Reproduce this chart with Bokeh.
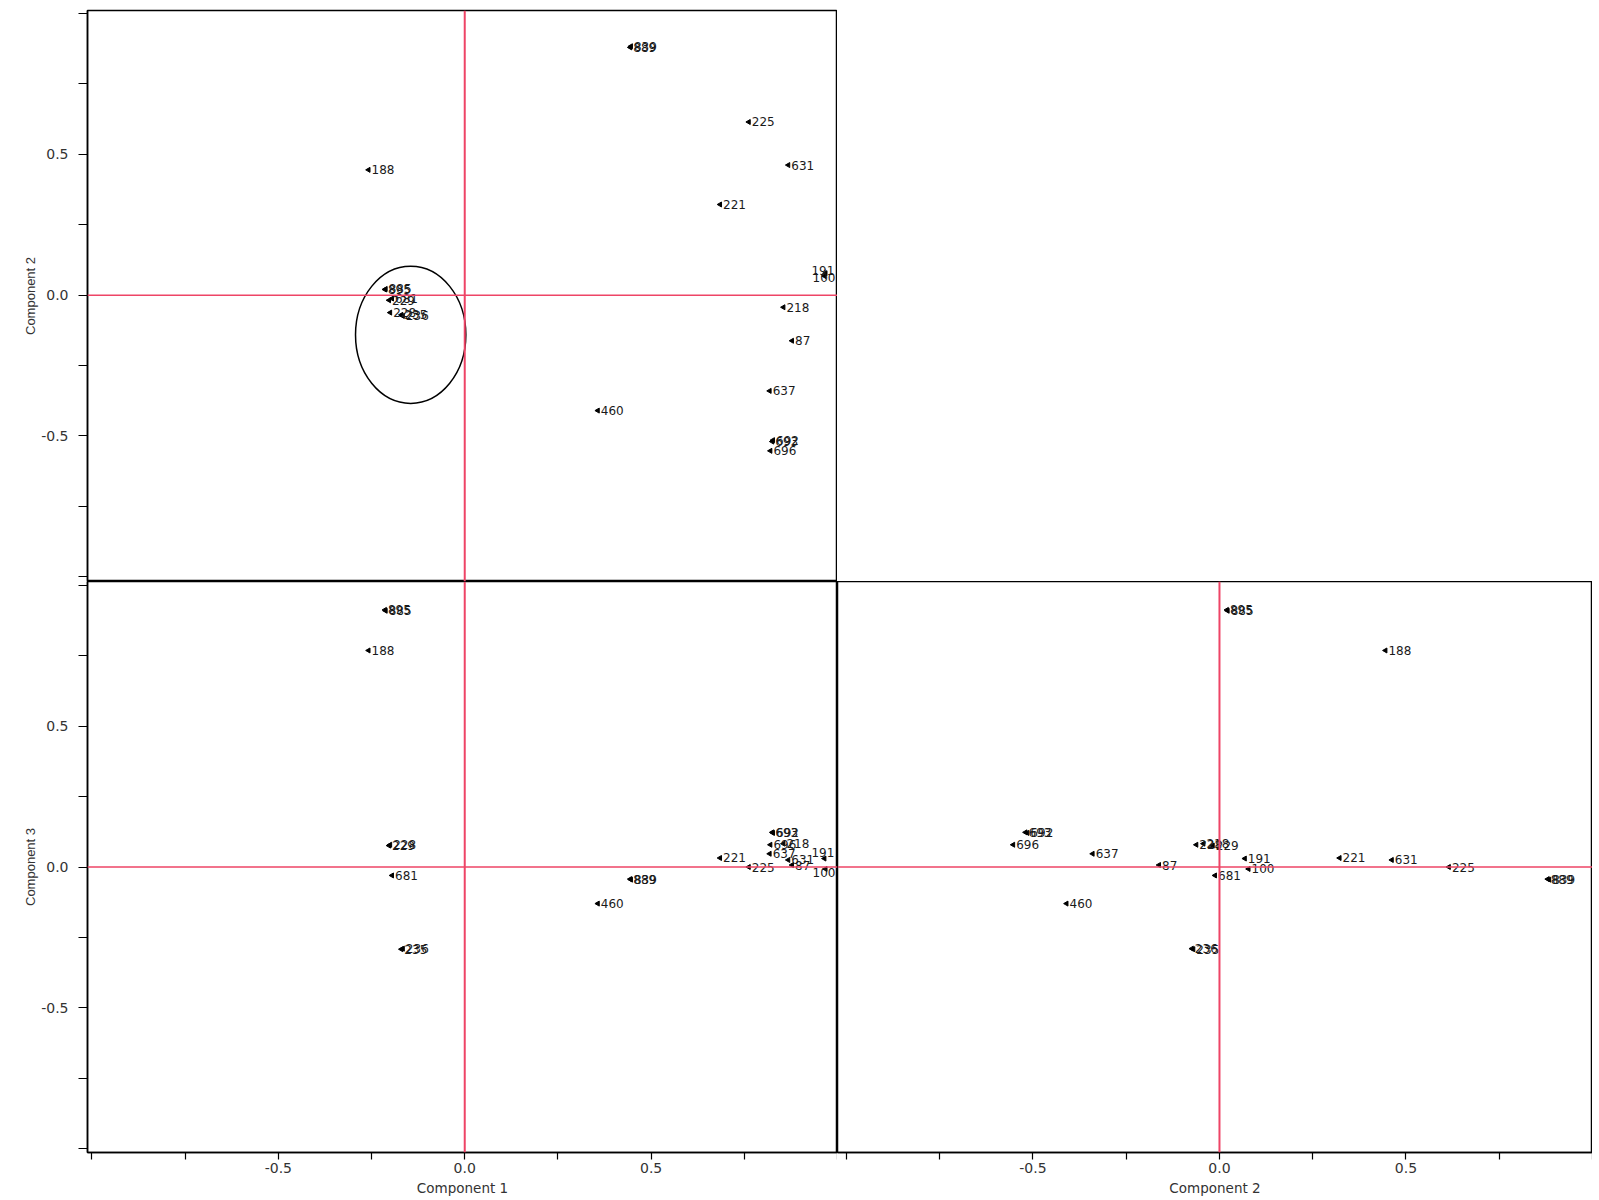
import numpy as np
from bokeh.plotting import figure
from bokeh.layouts import column, row
from bokeh.models import ColumnDataSource, Span, FixedTicker, Range1d, PrintfTickFormatter
from bokeh.core.properties import value
from bokeh.embed import file_html
from bokeh.resources import INLINE

# ---- data (loadings) ----
labels = ["889", "839", "225", "631", "221", "188", "191", "100", "218", "87",
          "637", "460", "693", "692", "696", "895", "885", "229", "228", "681",
          "235", "236"]
comp1 = [0.444, 0.446, 0.762, 0.868, 0.685, -0.258, 0.965, 0.968, 0.855, 0.878,
         0.818, 0.357, 0.825, 0.827, 0.820, -0.214, -0.212, -0.203, -0.200, -0.195,
         -0.170, -0.166]
comp2 = [0.880, 0.884, 0.615, 0.462, 0.322, 0.445, 0.068, 0.078, -0.043, -0.162,
         -0.340, -0.410, -0.520, -0.515, -0.553, 0.020, 0.022, -0.018, -0.062, -0.012,
         -0.070, -0.074]
comp3 = [-0.043, -0.045, 0.000, 0.025, 0.032, 0.769, 0.030, -0.007, 0.083, 0.007,
         0.047, -0.130, 0.123, 0.121, 0.079, 0.913, 0.910, 0.076, 0.079, -0.030,
         -0.292, -0.290]

axis_titles = ["Component 1", "Component 2", "Component 3"]
major_ticks = [-0.5, 0.0, 0.5]
minor_ticks = [-1.0, -0.75, -0.25, 0.25, 0.75, 1.0]

# highlight ellipse in Component 1 vs Component 2 panel
ell_x, ell_y, ell_w, ell_h = [-0.145], [-0.141], [0.296], [0.487]

# labels of points at the right edge of the Component 1 panels sit above-left of their marker
edge_labels = {"191": (-13, -6), "100": (-13, 4)}
off1_x = [edge_labels.get(l, (3, 0))[0] for l in labels]
off1_y = [edge_labels.get(l, (3, 0))[1] for l in labels]

src = ColumnDataSource(dict(c1=comp1, c2=comp2, c3=comp3, lab=labels,
                            ox1=off1_x, oy1=off1_y))

RED = "#ee4466"
FONT = "DejaVu Sans"


def make_panel(xcol, ycol, xr, yr, show_x, show_y, fw, fh, mbl, mbt, mbb, xtitle=None, ytitle=None):
    kw = dict(frame_width=fw, frame_height=fh, output_backend="svg", toolbar_location=None,
              x_range=Range1d(*xr), y_range=Range1d(*yr),
              min_border_left=mbl, min_border_right=0, min_border_top=mbt, min_border_bottom=mbb)
    if not show_x:
        kw["x_axis_location"] = None
    if not show_y:
        kw["y_axis_location"] = None
    p = figure(**kw)
    p.grid.visible = False
    p.outline_line_color = "black"
    p.outline_line_width = 1.5
    p.background_fill_color = "white"
    p.border_fill_color = "white"
    for ax, tick_len, standoff in ([(a, 7, 3) for a in p.xaxis] + [(a, 9, 10) for a in p.yaxis]):
        ax.ticker = FixedTicker(ticks=major_ticks, minor_ticks=minor_ticks)
        ax.formatter = PrintfTickFormatter(format="%.1f")
        ax.axis_line_color = "black"
        ax.axis_line_width = 1.5
        ax.major_tick_in = 0
        ax.minor_tick_in = 0
        ax.major_tick_out = tick_len
        ax.minor_tick_out = tick_len
        ax.major_tick_line_width = 1.2
        ax.minor_tick_line_width = 1.2
        ax.major_label_standoff = standoff
        ax.major_label_text_font = FONT
        ax.major_label_text_font_size = "14px"
        ax.major_label_text_color = "#333333"
        ax.axis_label_text_font_style = "normal"
        ax.axis_label_text_color = "#333333"
    if show_x:
        p.xaxis.axis_label = xtitle
        p.xaxis.axis_label_text_font = FONT
        p.xaxis.axis_label_text_font_size = "13.5px"
        p.xaxis.axis_label_standoff = 4
    if show_y:
        p.yaxis.axis_label = ytitle
        p.yaxis.axis_label_text_font = "Liberation Sans"
        p.yaxis.axis_label_text_font_size = "13px"
        p.yaxis.axis_label_standoff = 0
    p.add_layout(Span(location=0, dimension="width", line_color=RED, line_width=1.5))
    p.add_layout(Span(location=0, dimension="height", line_color=RED, line_width=2))
    p.scatter(xcol, ycol, source=src, marker="triangle", angle=np.pi / 2, size=5,
              color="black")
    if xcol == "c1":
        xo, yo = "ox1", "oy1"
    else:
        xo, yo = 3, 0
    p.text(xcol, ycol, text="lab", source=src, x_offset=xo, y_offset=yo,
           text_baseline="middle", text_align="left", text_font=value(FONT),
           text_font_size="12px", text_color="#1a1a1a")
    return p


XR = (-1.012, 1.0)
YR_TOP = (-1.017, 1.011)
YR_BOT = (-1.014, 1.014)

p1 = make_panel("c1", "c2", XR, YR_TOP, False, True, 750, 571, 87, 10, 0, ytitle=axis_titles[1])
p1.ellipse(x=ell_x, y=ell_y, width=ell_w, height=ell_h, fill_color=None,
           line_color="black", line_width=1.5)
p2 = make_panel("c1", "c3", XR, YR_BOT, True, True, 750, 571, 87, 0, 40,
                xtitle=axis_titles[0], ytitle=axis_titles[2])
p3 = make_panel("c2", "c3", (-1.024, 1.0), YR_BOT, True, False, 755, 571, 0, 0, 40,
                xtitle=axis_titles[1])

layout = column(row(p1), row(p2, p3))

open("out.html", "w").write(file_html(layout, INLINE))
